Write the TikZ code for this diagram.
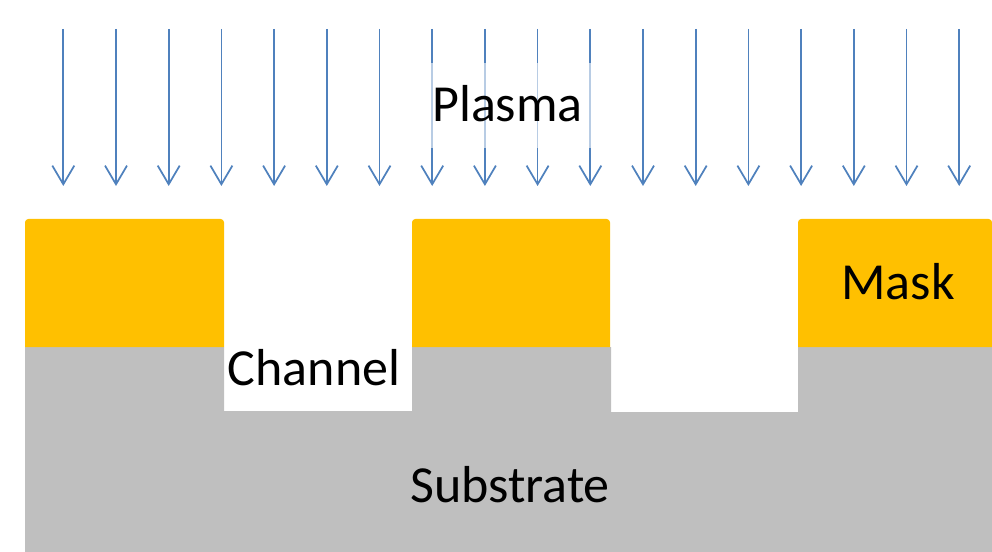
\documentclass[tikz,border=0pt]{standalone}
\usepackage{fontspec}
\setmainfont{Carlito}
\usetikzlibrary{arrows.meta}
\definecolor{maskc}{RGB}{255,192,0}
\definecolor{subc}{RGB}{191,191,191}
\definecolor{beam}{RGB}{79,129,189}
\tikzset{
  masklayer/.style={fill=maskc},
  sublayer/.style={fill=subc},
  beamarrow/.style={draw=beam, line width=1.3pt, -{Straight Barb[length=14pt,width=16.5pt,line width=1.3pt]}},
  lbl/.style={font=\fontsize{39}{44}\selectfont, inner sep=0pt, anchor=base, text=black},
  halo/.style={fill=white, fill opacity=0.6}
}
\begin{document}
\begin{tikzpicture}[x=0.75pt,y=-0.75pt]
\useasboundingbox (0,0) rectangle (992,552);
% substrate with etched channels
\fill[sublayer] (25,347) -- (224,347) -- (224,411) -- (412,411) -- (412,347) -- (611,347) -- (611,412) -- (798,412) -- (798,347) -- (992,347) -- (992,552) -- (25,552) -- cycle;
% mask blocks
\fill[masklayer, rounded corners=2.5pt] (25,347) -- (25,219) -- (224,219) -- (224,347);
\fill[masklayer, rounded corners=2.5pt] (412,347) -- (412,219) -- (610,219) -- (610,347);
\fill[masklayer, rounded corners=2.5pt] (798,347) -- (798,219) -- (992,219) [sharp corners] -- (992,347);
% plasma arrows
\foreach \i in {0,...,17}{
  \coordinate (s\i) at ({63.3+52.7*\i},29);
  \coordinate (e\i) at ({63.3+52.7*\i},186);
  \draw[beamarrow] (s\i) -- (e\i);
}
% labels
\fill[halo] (405,63) rectangle (612,148);
\node[lbl] (plasma) at (507.5,122) {Plasma};
\node[lbl] (channel) at (314,385) {Channel};
\node[lbl] (mask) at (898,300) {Mask};
\node[lbl] (substrate) at (510,502) {Substrate};
\end{tikzpicture}
\end{document}
